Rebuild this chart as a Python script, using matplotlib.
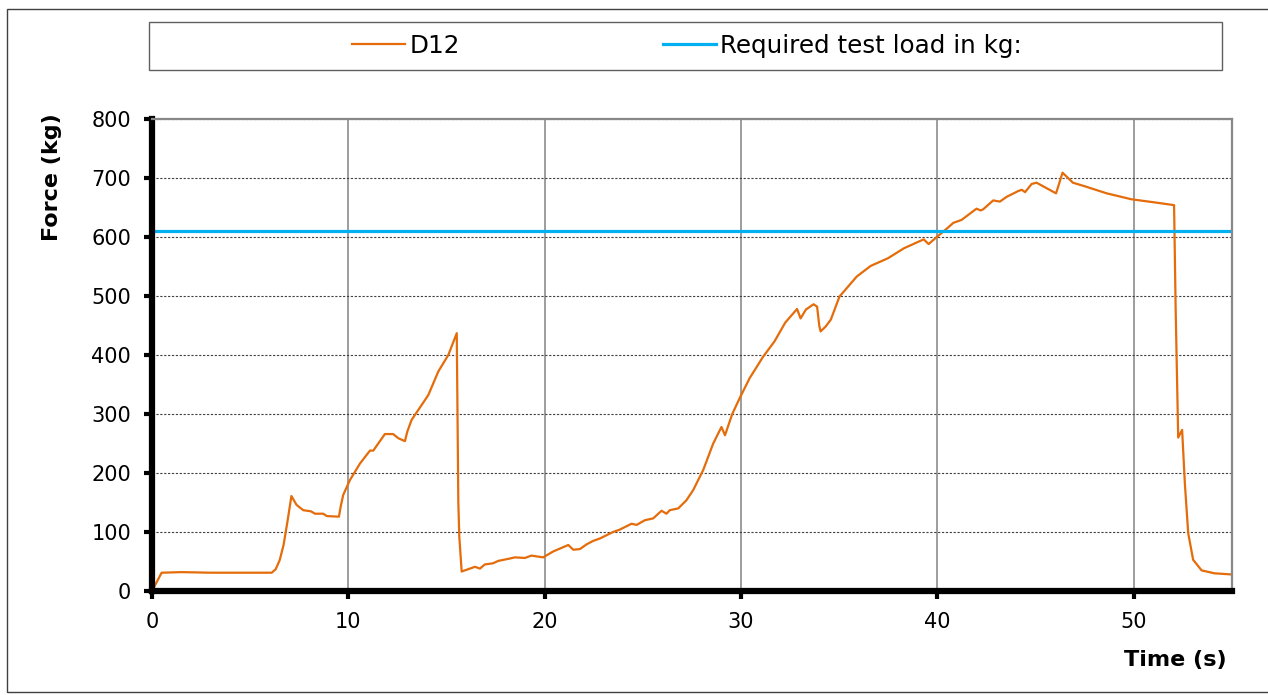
import numpy as np
import matplotlib
matplotlib.use("Agg")
import matplotlib.pyplot as plt
from matplotlib.patches import Rectangle

# force trace, time (s) vs force (kg)
TIME = [0, 0.49, 1.5, 3.0, 4.5, 6.1, 6.3, 6.5, 6.7, 6.9, 7.1, 7.36, 7.7, 8.1, 8.3,
        8.72, 8.9, 9.52, 9.62, 9.74, 10.08, 10.59, 11.1, 11.27, 11.86, 12.28, 12.54,
        12.88, 13.0, 13.22, 14.07, 14.58, 15.09, 15.52, 15.6, 15.65, 15.77, 16.02,
        16.45, 16.7, 16.95, 17.37, 17.63, 18.22, 18.48, 18.99, 19.32, 19.92, 20.43,
        21.2, 21.45, 21.79, 22.13, 22.47, 22.81, 23.48, 23.82, 24.42, 24.68, 25.1,
        25.52, 25.95, 26.2, 26.37, 26.8, 27.22, 27.56, 28.07, 28.58, 29.0, 29.18,
        29.55, 29.93, 30.44, 31.12, 31.7, 32.25, 32.85, 33.03, 33.3, 33.69, 33.87,
        33.98, 34.05, 34.3, 34.57, 35.01, 35.89, 36.6, 37.48, 38.3, 39.3, 39.55,
        40.0, 40.47, 40.81, 41.23, 41.99, 42.2, 42.33, 42.84, 43.18, 43.52, 44.12,
        44.3, 44.46, 44.8, 45.05, 46.04, 46.37, 46.9, 47.5, 48.62, 49.87, 51.2,
        52.05, 52.13, 52.26, 52.46, 52.6, 52.77, 53.02, 53.45, 54.1, 55.0]
FORCE = [0, 31, 32, 31, 31, 31, 37, 52, 78, 118, 161, 146, 137, 135, 131,
         131, 127, 126, 145, 163, 188, 216, 238, 238, 266, 266, 259,
         254, 270, 290, 332, 372, 400, 437, 150, 92, 33, 36,
         41, 38, 45, 47, 51, 55, 57, 56, 60, 57, 67,
         78, 70, 71, 79, 85, 89, 100, 104, 114, 112, 120,
         123, 136, 131, 137, 140, 154, 171, 205, 250, 278, 264,
         300, 327, 361, 397, 423, 455, 478, 462, 477, 486, 482,
         450, 440, 448, 460, 499, 533, 551, 564, 581, 596, 588,
         601, 614, 624, 629, 648, 645, 647, 662, 660, 668, 678,
         680, 676, 690, 692, 674, 709, 692, 686, 674, 664, 658,
         654, 480, 260, 273, 182, 98, 53, 35, 30, 28]
REQUIRED_LOAD = 610
SERIES_LABEL = "D12"
LOAD_LABEL = "Required test load in kg:"
XTICKS = [0, 10, 20, 30, 40, 50]
YTICKS = [0, 100, 200, 300, 400, 500, 600, 700, 800]

ORANGE = "#E46C0A"
BLUE = "#00B0F0"
W, H = 1268, 695

plt.rcParams["font.family"] = ["DejaVu Sans"]
fig = plt.figure(figsize=(W / 100, H / 100), dpi=100)

# outer chart border + legend box, in pixel-based figure fractions
fig.patches.append(Rectangle((7 / W, 1 - 692 / H), 1.0, (692 - 9) / H,
                             transform=fig.transFigure, fill=False,
                             edgecolor="#404040", lw=1.0))
fig.patches.append(Rectangle((149 / W, 1 - 70 / H), (1222 - 149) / W, 48 / H,
                             transform=fig.transFigure, fill=False,
                             edgecolor="#606060", lw=1.0))

ax = fig.add_axes([152 / W, 1 - 591 / H, 1080 / W, 472 / H])
line, = ax.plot(TIME, FORCE, color=ORANGE, lw=1.6, label=SERIES_LABEL)
load = ax.axhline(REQUIRED_LOAD, color=BLUE, lw=2.3, label=LOAD_LABEL)

ax.set_xlim(0, 55)
ax.set_ylim(0, 800)
ax.set_xticks(XTICKS)
ax.set_yticks(YTICKS)
ax.set_axisbelow(True)
ax.xaxis.grid(True, color="#8c8c8c", lw=1.2)
ax.yaxis.grid(True, color="#404040", lw=0.8, ls=(0, (2, 1.5)))

for s in ("left", "bottom"):
    ax.spines[s].set_linewidth(4.5)
    ax.spines[s].set_color("black")
for s in ("top", "right"):
    ax.spines[s].set_linewidth(1.6)
    ax.spines[s].set_color("#888888")

ax.tick_params(axis="both", direction="out", length=6, width=3, color="black",
               labelsize=15, pad=9)

ax.set_ylabel("Force (kg)", fontsize=16, fontweight="bold", loc="top")
ax.yaxis.set_label_coords(-0.083, 1.013)
ax.set_xlabel("Time (s)", fontsize=16, fontweight="bold", loc="right")
ax.xaxis.set_label_coords(0.995, -0.125)
ax.xaxis.label.set_va("top")

fig.legend(handles=[line, load], loc="center", bbox_to_anchor=(687 / W, 1 - 46 / H),
           ncol=2, frameon=False, fontsize=17.7, handlelength=2.15,
           handletextpad=0.2, columnspacing=8.25, borderaxespad=0)

fig.savefig("out.png", dpi=100)
